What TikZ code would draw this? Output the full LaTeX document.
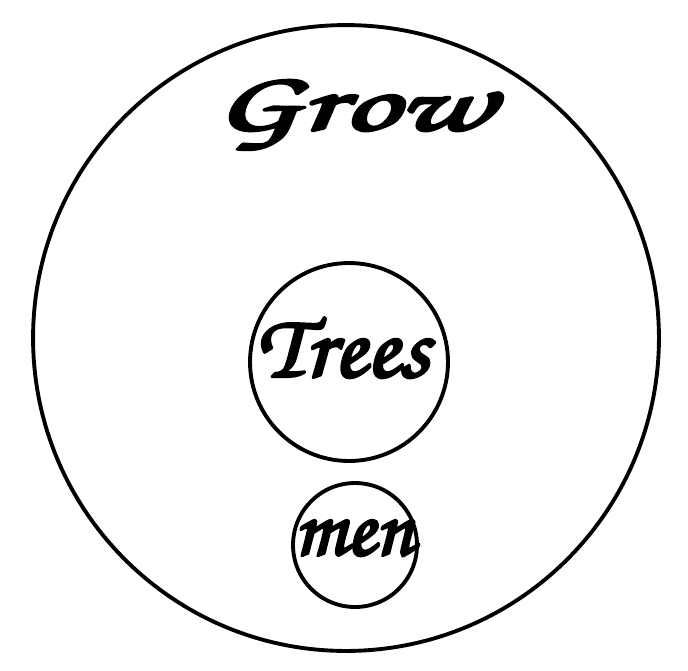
\documentclass[tikz,border=0pt]{standalone}
\usepackage{graphicx}
\usepackage{tikz}
\usetikzlibrary{positioning}

% calligraphic bold italic face for the labels
\newcommand{\callig}{\fontencoding{OT1}\fontfamily{pzc}\fontseries{mb}\fontshape{it}\selectfont}
% thicken glyphs by stroking their outlines as well
\newcommand{\heavy}[1]{\special{pdf:literal q 2 Tr 1.6 w}#1\special{pdf:literal Q}}

\begin{document}
\begin{tikzpicture}[x=0.02cm, y=-0.02cm, line cap=round, line join=round]
    % Styles
    \tikzset{
        ring/.style={circle, draw=black, line width=2.2pt, inner sep=0pt},
        word/.style={inner sep=0pt, text=black}
    }
    \useasboundingbox (0,0) rectangle (688,670);

    % --- Outer set ---
    \node[ring, minimum size=12.52cm] (grow) at (346,338) {};
    \node[word, font=\callig\fontsize{48}{48}\selectfont] (growlabel) at (353,114)
        {\scalebox{1.64}[1]{\heavy{Grow}}};

    % --- Trees ---
    \node[ring, minimum size=3.96cm] (trees) at (349,362) {};
    \node[word, font=\callig\fontsize{52}{52}\selectfont] (treeslabel) at (343,347)
        {\scalebox{1.05}[1]{\heavy{Trees}}};

    % --- men ---
    \node[ring, minimum size=2.48cm] (men) at (355,545) {};
    \node[word, font=\callig\fontsize{48}{48}\selectfont] (menlabel) at (354,537) {\heavy{men}};

\end{tikzpicture}
\end{document}
